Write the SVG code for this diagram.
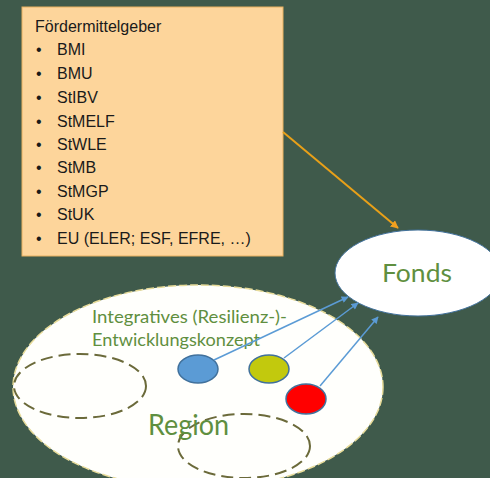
<svg xmlns="http://www.w3.org/2000/svg" width="490" height="478" viewBox="0 0 490 478">
<defs>
<style>
.box{fill:#fdd59b;stroke:#e8b060;stroke-width:1}
.bt{font-family:"Liberation Sans",Arial,sans-serif;font-size:16px;fill:#1a1a1a}
.gt{font-family:Lato,"Open Sans",sans-serif;fill:#5f8f40}
.dash{fill:none;stroke:#6b6a3a;stroke-width:2;stroke-dasharray:12 6}
.blue{stroke:#5b9bd5;stroke-width:1.5;fill:none}
.dot{stroke:#41719c;stroke-width:1.5}
</style>
<marker id="ao" viewBox="0 0 10 10" refX="9" refY="5" markerWidth="8" markerHeight="8" markerUnits="userSpaceOnUse" orient="auto"><path d="M0,0 L10,5 L0,10 z" fill="#f0a020"/></marker>
<marker id="ab" viewBox="0 0 10 10" refX="9" refY="5" markerWidth="8" markerHeight="7" markerUnits="userSpaceOnUse" orient="auto"><path d="M0,0 L10,5 L0,10 z" fill="#5b9bd5"/></marker>
</defs>
<rect width="490" height="478" fill="#3f5a4b"/>
<g id="region">
<ellipse cx="198" cy="387" rx="185" ry="102" fill="#fffffc" stroke="#e8dc9a" stroke-width="1.5" stroke-dasharray="8 3"/>
<ellipse class="dash" cx="80" cy="386" rx="66" ry="32"/>
<ellipse class="dash" cx="244" cy="446" rx="66" ry="32"/>
<text class="gt" x="92" y="323" font-size="17" textLength="195" lengthAdjust="spacingAndGlyphs" fill="#6c9a50">Integratives (Resilienz-)-</text>
<text class="gt" x="92" y="346" font-size="17" textLength="168" lengthAdjust="spacingAndGlyphs" fill="#6c9a50">Entwicklungskonzept</text>
<text class="gt" x="148" y="435" font-size="28" textLength="81" lengthAdjust="spacingAndGlyphs">Region</text>
</g>
<g id="foerdermittelgeber">
<rect class="box" x="22" y="7" width="261" height="249"/>
<text class="bt" x="35" y="32" font-size="15.5">Fördermittelgeber</text>
<g class="bt">
<text x="36" y="55">•</text><text x="57" y="55">BMI</text>
<text x="36" y="79">•</text><text x="57" y="79">BMU</text>
<text x="36" y="103">•</text><text x="57" y="103">StIBV</text>
<text x="36" y="127">•</text><text x="57" y="127">StMELF</text>
<text x="36" y="150">•</text><text x="57" y="150">StWLE</text>
<text x="36" y="173">•</text><text x="57" y="173">StMB</text>
<text x="36" y="197">•</text><text x="57" y="197">StMGP</text>
<text x="36" y="220">•</text><text x="57" y="220">StUK</text>
<text x="36" y="244">•</text><text x="57" y="244">EU (ELER; ESF, EFRE, …)</text>
</g>
</g>
<g id="fonds">
<ellipse cx="418" cy="273" rx="83" ry="43" fill="#ffffff" stroke="#41719c" stroke-width="1"/>
<text class="gt" x="382" y="282" font-size="25" textLength="70" lengthAdjust="spacingAndGlyphs" fill="#5a873a">Fonds</text>
</g>
<g id="massnahme-blau"><ellipse class="dot" cx="198" cy="369" rx="20" ry="14" fill="#5b9bd5"/></g>
<g id="massnahme-gelb"><ellipse class="dot" cx="269" cy="369" rx="20" ry="14" fill="#c2c90d"/></g>
<g id="massnahme-rot"><ellipse class="dot" cx="306" cy="399" rx="20" ry="15" fill="#ff0000"/></g>
<g id="connectors">
<line x1="283" y1="132" x2="398" y2="228" stroke="#e8a018" stroke-width="2" marker-end="url(#ao)"/>
<line class="blue" x1="214" y1="360" x2="348" y2="297" marker-end="url(#ab)"/>
<line class="blue" x1="284" y1="358" x2="358" y2="303" marker-end="url(#ab)"/>
<line class="blue" x1="320" y1="386" x2="378" y2="317" marker-end="url(#ab)"/>
</g>
</svg>
